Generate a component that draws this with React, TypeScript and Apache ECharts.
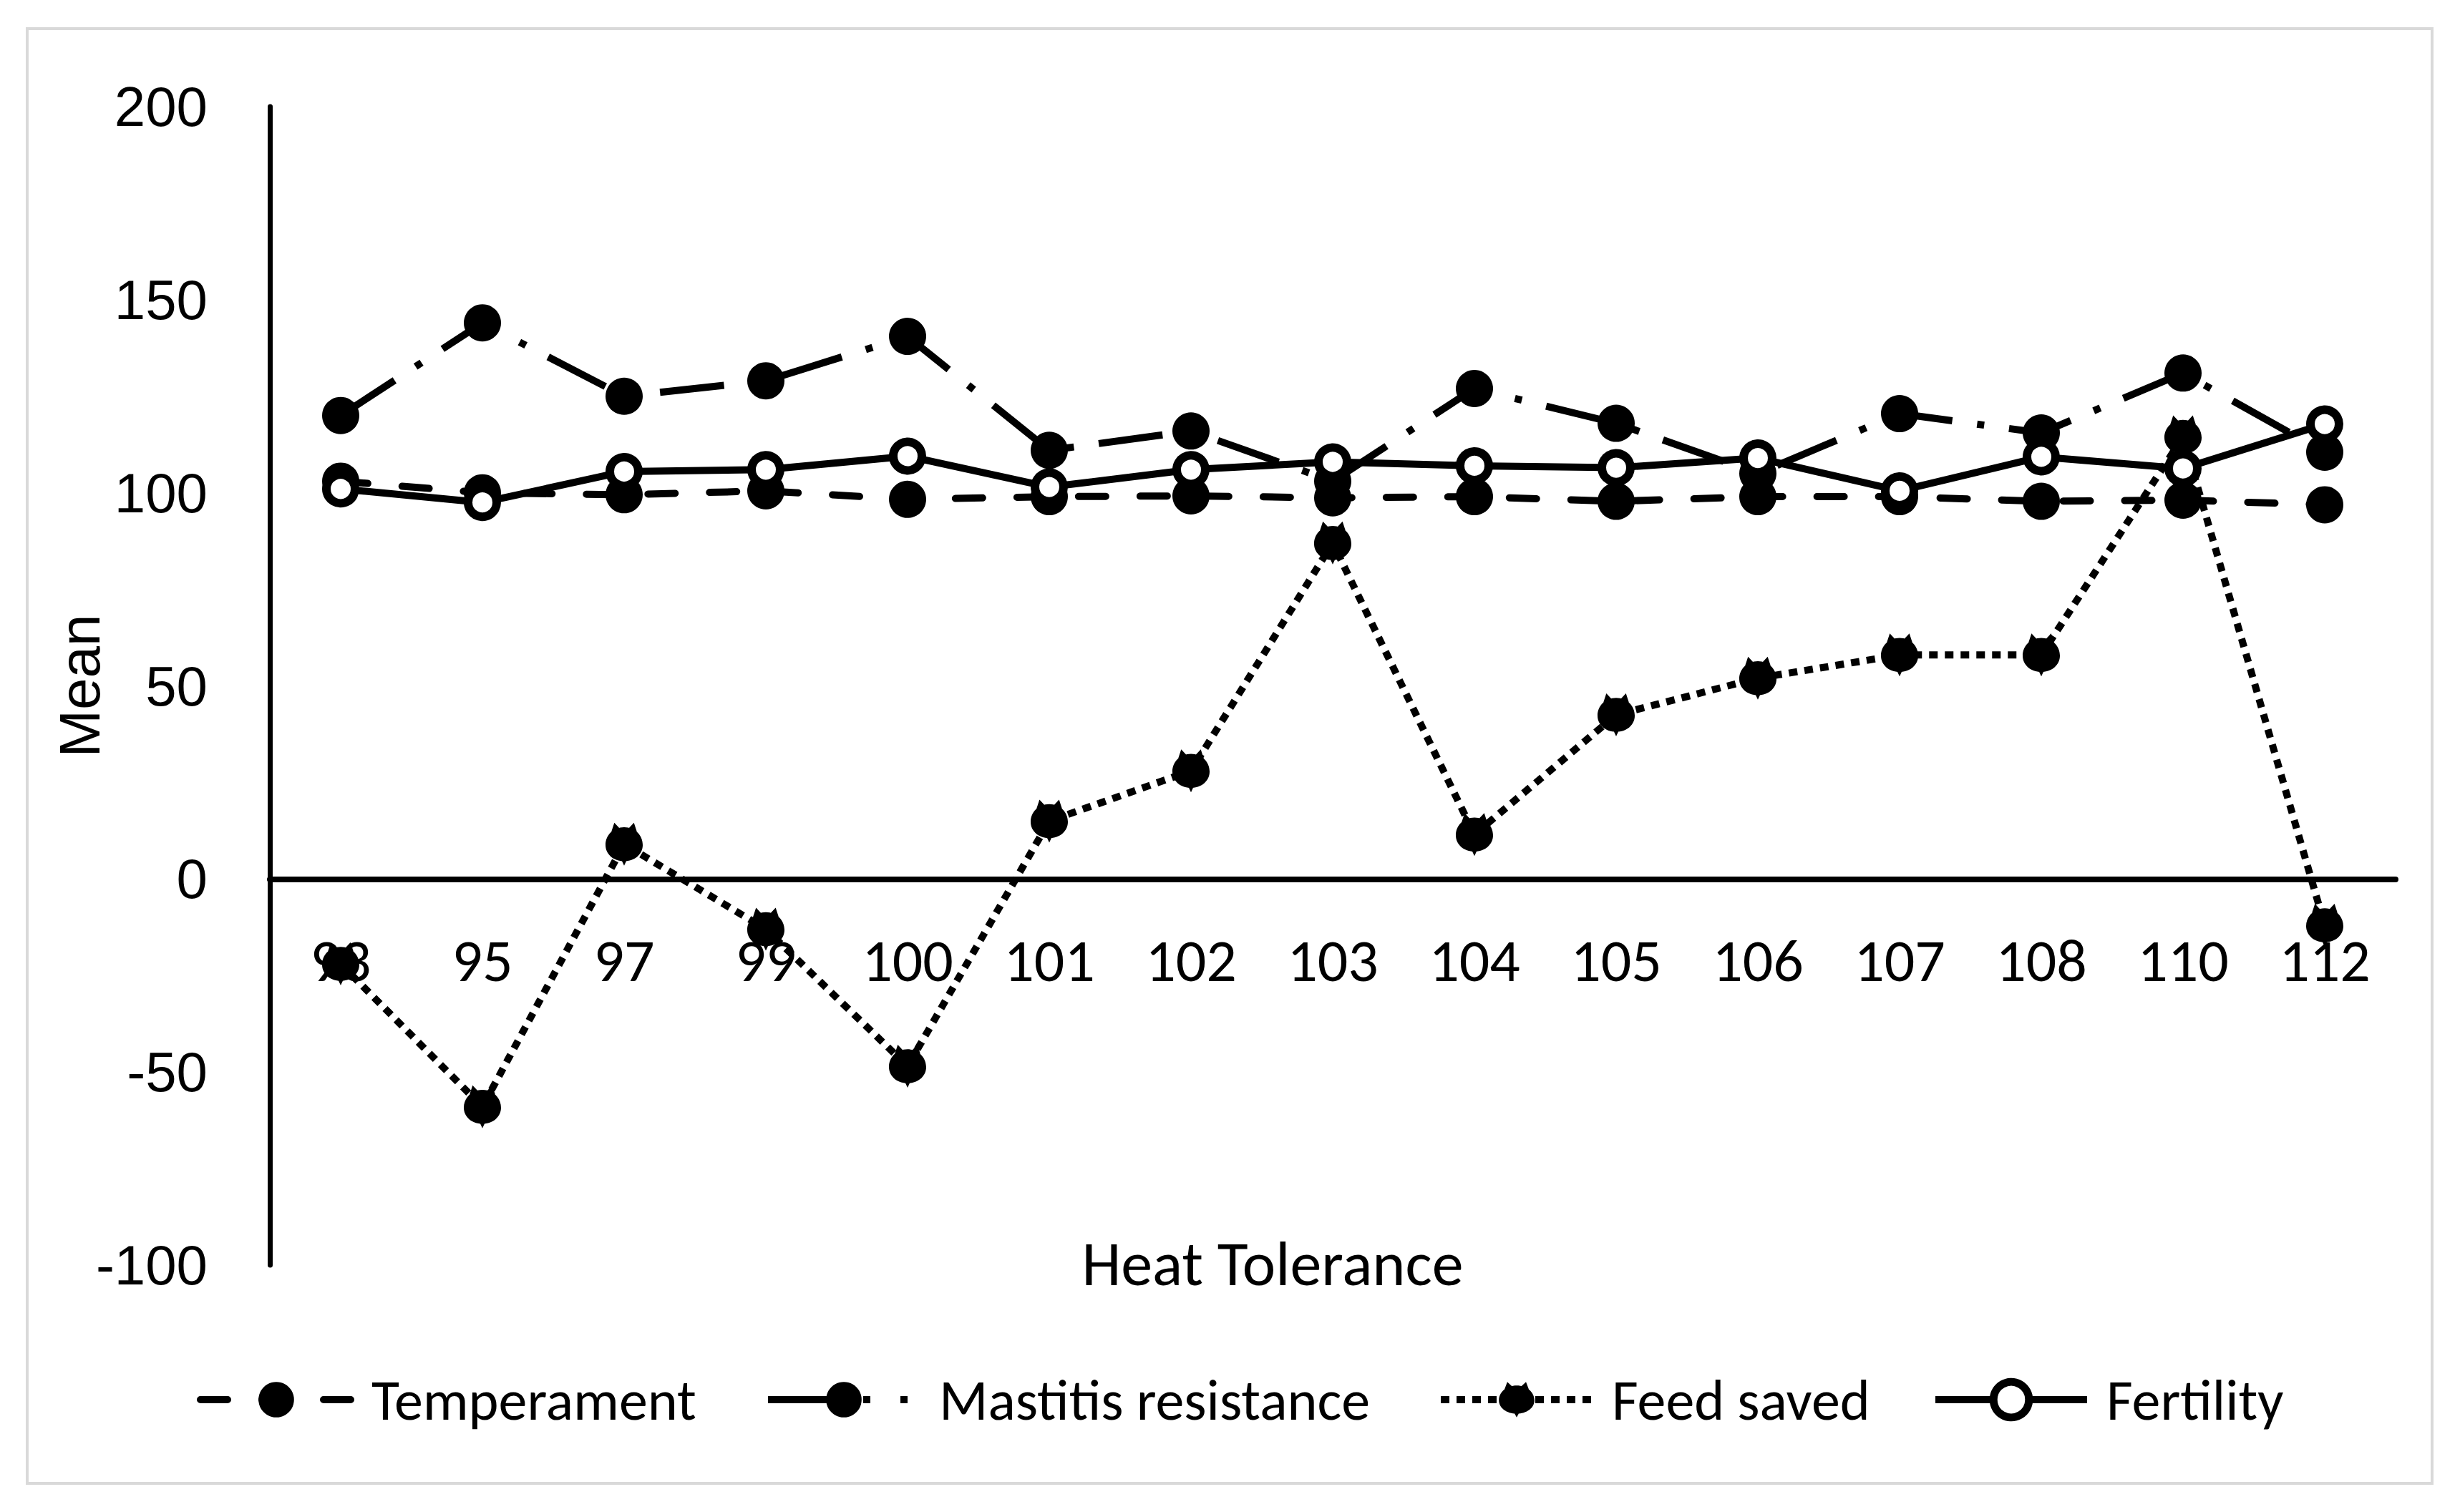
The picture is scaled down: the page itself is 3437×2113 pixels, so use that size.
import React, { useEffect, useRef } from "react";
import * as echarts from "echarts";

// ---- data ----
const categories = ["93", "95", "97", "99", "100", "101", "102", "103", "104", "105", "106", "107", "108", "110", "112"];
const temperament = [103, 100, 99.5, 100.5, 98.3, 99, 99.2, 98.7, 99, 97.8, 99, 99, 97.8, 98.1, 96.9];
const mastitis = [120, 144, 125, 129, 140.5, 111, 116, 103, 127, 118, 105, 120.5, 115.5, 131, 110.5];
const feedSaved = [-22, -59, 9, -13, -48.5, 15, 28, 87, 11.5, 42.5, 52, 58, 58, 114.5, -12];
const fertility = [101, 97.5, 105.5, 106, 109.5, 101.5, 106, 108, 107, 106.5, 109, 100.5, 109.3, 106.3, 117.8];
const seriesNames = ["Temperament", "Mastitis resistance", "Feed saved", "Fertility"];
const yMin = -100;
const yMax = 200;
const yStep = 50;

const CAL = "Carlito, Calibri, 'Liberation Sans Narrow', 'DejaVu Sans Condensed', Lato, sans-serif";
const ARIAL = "'Liberation Sans', Arial, sans-serif";

const feedSymbol =
  "path://M50 14 C72 14 88 32 88 54 C88 74 72 90 50 90 C28 90 12 74 12 54 C12 32 28 14 50 14 Z M30 4 L42 18 L24 24 Z M70 4 L76 24 L58 18 Z M44 86 L56 86 L50 100 Z";

const GRID_TOP = 149;
const GRID_BOTTOM_Y = 1768;

export default function App() {
  const ref = useRef<HTMLDivElement>(null);

  useEffect(() => {
    if (!ref.current) return;
    const chart = echarts.init(ref.current, undefined, { renderer: "svg" });

    // pixel distance from the grid bottom up to the value 0
    const zeroOffset = ((0 - yMin) / (yMax - yMin)) * (GRID_BOTTOM_Y - GRID_TOP);

    const lineStyles: any[] = [
      { color: "#000", width: 10, type: [38, 48], cap: "round" },
      { color: "#000", width: 10, type: [90, 35, 10, 35], cap: "butt" },
      { color: "#000", width: 10, type: [12, 10], cap: "butt" },
      { color: "#000", width: 10, type: "solid" },
    ];
    const legendLineStyles: any[] = [
      lineStyles[0],
      { color: "#000", width: 10, type: [95, 38, 10, 42, 10, 100], cap: "butt" },
      lineStyles[2],
      lineStyles[3],
    ];

    const legendCommon = {
      orient: "horizontal",
      padding: 0,
      itemWidth: 212,
      itemHeight: 62,
      selectedMode: false,
      top: 1916,
      textStyle: { fontFamily: CAL, fontSize: 80, color: "#000", padding: [0, 0, 0, 22] },
    };

    const option: any = {
      animation: false,
      backgroundColor: "#fff",
      grid: {
        left: 377,
        right: 90,
        top: GRID_TOP,
        bottom: 2113 - GRID_BOTTOM_Y,
        containLabel: false,
        outerBoundsMode: "none",
      },
      xAxis: {
        type: "category",
        data: categories,
        boundaryGap: true,
        position: "bottom",
        offset: -zeroOffset,
        axisLine: { show: true, onZero: false, lineStyle: { color: "#000", width: 8 } },
        axisTick: { show: false },
        splitLine: { show: false },
        axisLabel: { interval: 0, fontFamily: CAL, fontSize: 84, color: "#000", margin: 72 },
      },
      yAxis: {
        type: "value",
        min: yMin,
        max: yMax,
        interval: yStep,
        axisLine: { show: true, lineStyle: { color: "#000", width: 7 } },
        axisTick: { show: false },
        splitLine: { show: false },
        axisLabel: { fontFamily: ARIAL, fontSize: 78, color: "#000", margin: 87 },
        name: "Mean",
        nameLocation: "middle",
        nameRotate: 90,
        nameGap: 226,
        nameMoveOverlap: false,
        nameTextStyle: { fontFamily: ARIAL, fontSize: 80, color: "#000" },
      },
      legend: [
        { ...legendCommon, left: 275, lineStyle: legendLineStyles[0], data: [{ name: seriesNames[0] }] },
        { ...legendCommon, left: 1068, lineStyle: legendLineStyles[1], data: [{ name: seriesNames[1] }] },
        { ...legendCommon, left: 2008, lineStyle: legendLineStyles[2], data: [{ name: seriesNames[2] }] },
        {
          ...legendCommon,
          left: 2699,
          lineStyle: legendLineStyles[3],
          data: [{ name: seriesNames[3], itemStyle: { color: "#fff", borderColor: "#000", borderWidth: 11 } }],
        },
      ],
      graphic: [
        {
          type: "rect",
          silent: true,
          z: -1,
          shape: { x: 38, y: 40, width: 3360, height: 2033 },
          style: { fill: "none", stroke: "#d9d9d9", lineWidth: 4 },
        },
        {
          type: "text",
          x: 1778,
          y: 1766,
          style: {
            text: "Heat Tolerance",
            fontFamily: CAL,
            fontSize: 88,
            fill: "#000",
            align: "center",
            verticalAlign: "middle",
          },
        },
      ],
      series: [
        {
          name: seriesNames[0],
          type: "line",
          data: temperament,
          symbol: "circle",
          symbolSize: 52,
          itemStyle: { color: "#000" },
          lineStyle: lineStyles[0],
        },
        {
          name: seriesNames[1],
          type: "line",
          data: mastitis,
          symbol: "circle",
          symbolSize: 52,
          itemStyle: { color: "#000" },
          lineStyle: lineStyles[1],
        },
        {
          name: seriesNames[2],
          type: "line",
          data: feedSaved,
          symbol: feedSymbol,
          symbolSize: [52, 60],
          itemStyle: { color: "#000" },
          lineStyle: lineStyles[2],
        },
        {
          name: seriesNames[3],
          type: "line",
          data: fertility,
          symbol: "circle",
          symbolSize: 40,
          itemStyle: { color: "#fff", borderColor: "#000", borderWidth: 12 },
          lineStyle: lineStyles[3],
        },
      ],
    };

    chart.setOption(option);
    return () => chart.dispose();
  }, []);

  return (
    <div
      ref={ref}
      style={{ position: "fixed", left: 0, top: 0, width: "3437px", height: "2113px", background: "#fff" }}
    />
  );
}
